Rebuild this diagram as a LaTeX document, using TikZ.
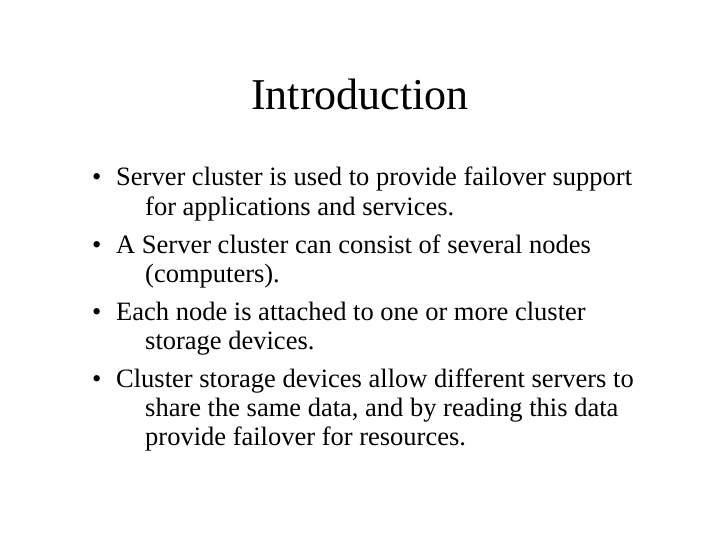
\documentclass[tikz,border=0pt]{standalone}
\usepackage{fontspec}
\setmainfont{Liberation Serif}
\begin{document}
\begin{tikzpicture}[x=1pt,y=-1pt,
  body/.style={anchor=base west,inner sep=0pt,font=\fontsize{26.5}{30}\selectfont},
  ttl/.style={anchor=base,inner sep=0pt,font=\fontsize{44}{50}\selectfont}]
\useasboundingbox (0,0) rectangle (720,540);
\node[ttl] (t) at (360,110) {Introduction};
\node[body] (b1) at (92,186) {•};
\node[body] (l1) at (116,186) {Server cluster is used to provide failover support};
\node[body] (l1b) at (145,215) {for applications and services.};
\node[body] (b2) at (92,253) {•};
\node[body] (l2) at (116,253) {A Server cluster can consist of several nodes};
\node[body] (l2b) at (145,282) {(computers).};
\node[body] (b3) at (92,320) {•};
\node[body] (l3) at (116,320) {Each node is attached to one or more cluster};
\node[body] (l3b) at (145,349) {storage devices.};
\node[body] (b4) at (92,387) {•};
\node[body] (l4) at (116,387) {Cluster storage devices allow different servers to};
\node[body] (l4b) at (145,416) {share the same data, and by reading this data};
\node[body] (l4c) at (145,445) {provide failover for resources.};
\end{tikzpicture}
\end{document}
